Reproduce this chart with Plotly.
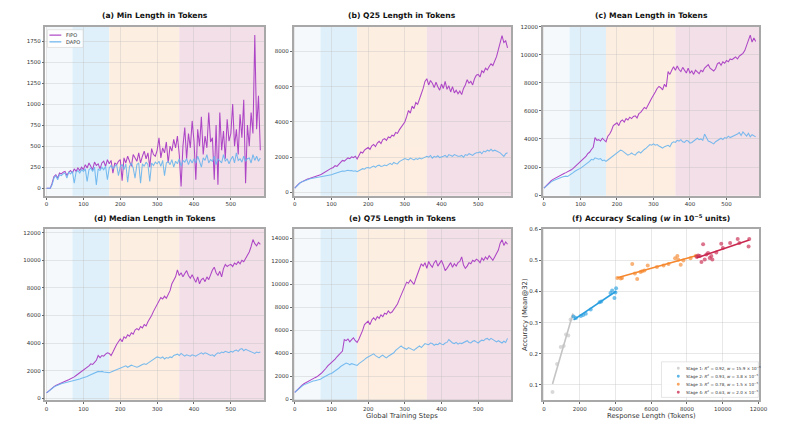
import numpy as np
import plotly.graph_objects as go

# ---------------- data ----------------
steps = list(range(0, 585, 5))
stage_edges = [0, 70, 170, 360, 590]
stage_colors = ["#f6f9fc", "#dff0fa", "#fdeee2", "#f3dfe7"]

min_fipo = [0, 0, 0, 60, 140, 160, 120, 180, 170, 190,
            200, 150, 190, 210, 180, 230, 200, 240, 210, 250,
            220, 280, 240, 300, 260, 220, 310, 270, 290, 230,
            300, 320, 260, 340, 290, 330, 180, 300, 280, 320,
            340, 90, 360, 300, 380, 330, 260, 400, 350, 320,
            420, 300, 380, 440, 350, 420, 250, 470, 400, 380,
            450, 600, 360, 480, 420, 550, 300, 500, 440, 580,
            480, 620, 400, 20, 500, 720, 350, 650, 480, 800,
            560, 100, 700, 500, 850, 400, 620, 480, 900, 550,
            600, 100, 750, 40, 900, 450, 680, 350, 820, 560,
            650, 1000, 500, 700, 400, 880, 600, 1050, 60, 750,
            500, 900, 650, 1820, 700, 1100, 450]
min_dapo = [0, 0, 0, 40, 120, 150, 100, 160, 150, 170,
            180, 120, 190, 170, 200, 60, 190, 210, 180, 220,
            200, 230, 80, 220, 240, 200, 250, 40, 230, 210,
            250, 220, 260, 100, 240, 270, 230, 260, 280, 150,
            260, 280, 220, 290, 70, 260, 300, 240, 120, 280,
            300, 60, 290, 260, 310, 280, 80, 300, 270, 310,
            290, 320, 260, 330, 150, 300, 320, 280, 340, 250,
            320, 290, 350, 260, 330, 310, 350, 280, 340, 300,
            350, 300, 380, 320, 250, 360, 330, 400, 300, 340,
            320, 380, 280, 350, 330, 300, 400, 320, 350, 290,
            340, 380, 300, 420, 330, 350, 310, 380, 320, 350,
            360, 300, 400, 330, 380, 320, 360]

q25_fipo = [250, 380, 480, 560, 620, 670, 720, 760, 790, 820,
            850, 880, 920, 960, 1010, 1060, 1130, 1180, 1250, 1300,
            1380, 1420, 1520, 1480, 1600, 1700, 1820, 1780, 1900, 1960,
            1920, 2020, 1980, 2060, 1900, 2150, 2300, 2240, 2400, 2480,
            2550, 2450, 2650, 2720, 2600, 2800, 2900, 2780, 3000, 3050,
            2950, 3150, 3100, 3250, 3200, 3400, 3350, 3550, 3700, 3850,
            4000, 4300, 4650, 4500, 4900, 4750, 5100, 5000, 5350, 5600,
            5900, 6300, 6450, 6100, 6350, 6200, 5950, 6250, 6000, 5800,
            6150, 5900, 6300, 5850, 6050, 5700, 6000, 5650, 5800, 5600,
            5750, 5550, 5900, 6100, 6400, 6200, 6300, 6100, 6450, 6650,
            6700, 6550, 6900, 6800, 7050, 6950, 7150, 7300, 7200, 7450,
            7700, 8100, 8600, 8900, 8500, 8600, 8200]
q25_dapo = [250, 370, 470, 550, 610, 660, 700, 740, 770, 790,
            810, 830, 850, 840, 880, 900, 920, 960, 950, 990,
            1000, 1050, 1080, 1100, 1150, 1180, 1220, 1200, 1240, 1260,
            1230, 1250, 1210, 1230, 1180, 1250, 1300, 1350, 1320, 1400,
            1420, 1380, 1450, 1500, 1430, 1520, 1550, 1480, 1500, 1560,
            1520, 1600, 1650, 1580, 1700, 1650, 1620, 1750, 1800, 1850,
            1920, 1880, 1850, 1950, 1900, 1850, 1920, 1880, 1950, 1900,
            1950, 2000, 2050, 2000, 2100, 1950, 2050, 2000, 2080, 1980,
            2000, 2050, 2100, 2000, 2150, 2100, 2050, 2150, 2100, 2050,
            2050, 2100, 2000, 2150, 2100, 2200, 2150, 2100, 2200, 2250,
            2250, 2300, 2200, 2350, 2300, 2400, 2350, 2450, 2350, 2400,
            2350, 2300, 2250, 2150, 2050, 2200, 2250]

mean_fipo = [500, 650, 800, 920, 1030, 1120, 1200, 1270, 1340, 1400,
             1470, 1540, 1600, 1650, 1720, 1800, 1900, 2020, 2150, 2250,
             2350, 2480, 2650, 2750, 2950, 3050, 3250, 3400, 4100, 3900,
             3950, 3850, 4050, 3950, 3800, 4200, 4350, 4600, 4950, 5050,
             5150, 4950, 5250, 5350, 5200, 5450, 5350, 5550, 5450, 5600,
             5650, 5500, 5800, 5900, 6050, 6250, 6150, 6450, 6650, 6900,
             7100, 7350, 7600, 7750, 7650, 7500, 7900, 7700, 8800, 8600,
             8900, 9150, 8900, 9200, 8950, 8800, 9100, 8900, 8700, 9050,
             8700, 8850, 8600, 8900, 8750, 8650, 8900, 8800, 9050, 9200,
             9300, 9050, 8950, 8850, 9000, 9350, 9450, 9250, 9500, 9400,
             9600, 9500, 9700, 9650, 9750, 9850, 9700, 9900, 10000, 10100,
             10300, 10700, 11100, 11400, 10900, 11200, 10950]
mean_dapo = [500, 620, 740, 850, 940, 1020, 1090, 1150, 1200, 1240,
             1280, 1320, 1350, 1330, 1400, 1500, 1600, 1700, 1800, 1850,
             1900, 2000, 2100, 2150, 2250, 2400, 2550, 2500, 2650, 2600,
             2550, 2600, 2450, 2500, 2400, 2500, 2600, 2750, 2850, 2950,
             3000, 3100, 3200, 3150, 3050, 2950, 2850, 2900, 3000, 2900,
             2850, 3000, 3100, 3000, 3150, 3250, 3350, 3500, 3600, 3550,
             3650, 3550, 3600, 3500, 3450, 3350, 3450, 3500, 3550, 3450,
             3700, 3800, 3750, 3900, 3850, 3950, 3800, 3750, 3900, 3850,
             3700, 3750, 3850, 3950, 4050, 3950, 4000, 3900, 4350, 4100,
             3850, 3800, 3700, 3650, 3800, 3900, 4000, 4050, 3950, 4100,
             4050, 4200, 4100, 4150, 4250, 4300, 4350, 4450, 4250, 4500,
             4350, 4200, 4400, 4150, 4300, 4250, 4150]

median_fipo = [400, 530, 650, 760, 850, 930, 1000, 1060, 1120, 1180,
               1230, 1290, 1350, 1400, 1480, 1550, 1650, 1750, 1850, 1900,
               2000, 2100, 2250, 2350, 2500, 2450, 2600, 2750, 3100, 2950,
               3100, 3050, 3200, 3300, 3250, 3100, 3350, 3650, 3900, 4100,
               4300, 4100, 4450, 4350, 4600, 4500, 4750, 4650, 4950, 5050,
               4950, 5200, 5100, 5350, 5250, 5550, 5750, 6000, 6300, 6550,
               6800, 7100, 7300, 7200, 7400, 7250, 7500, 7800, 8300, 8600,
               8800, 9300, 8900, 9100, 8800, 9050, 9250, 8900, 8700, 8950,
               8600, 8400, 8800, 8300, 8600, 8700, 8450, 8800, 8600, 9000,
               9300, 9500, 9100, 8900, 9200, 8800, 9400, 9700, 9550, 9650,
               9700, 9550, 9800, 9700, 9900, 9750, 10000, 9900, 10150, 10300,
               10600, 11000, 11500, 11200, 11050, 11300, 11150]
median_dapo = [400, 520, 630, 730, 820, 900, 960, 1010, 1060, 1100,
               1130, 1160, 1190, 1200, 1230, 1270, 1320, 1360, 1400, 1450,
               1480, 1520, 1580, 1650, 1700, 1780, 1850, 1900, 1950, 1920,
               1950, 1900, 1880, 1850, 1850, 1900, 1950, 2000, 2100, 2150,
               2200, 2250, 2300, 2350, 2250, 2300, 2400, 2350, 2300, 2250,
               2300, 2400, 2450, 2500, 2450, 2550, 2650, 2700, 2800, 2900,
               3000, 2950, 2900, 3000, 2850, 2950, 2900, 3000, 2950, 3100,
               3150, 3200, 3100, 3250, 3150, 3050, 3150, 3100, 3050, 3150,
               3100, 3050, 3150, 3250, 3300, 3200, 3300, 3250, 3150, 3100,
               3150, 3050, 3200, 3300, 3250, 3350, 3300, 3400, 3350, 3300,
               3400, 3350, 3450, 3500, 3400, 3550, 3600, 3450, 3550, 3500,
               3400, 3350, 3300, 3250, 3350, 3300, 3350]

q75_fipo = [600, 780, 950, 1100, 1230, 1350, 1450, 1550, 1640, 1720,
            1800, 1880, 1950, 2050, 2200, 2350, 2500, 2700, 2900, 3050,
            3150, 3300, 3500, 3700, 3900, 4000, 4200, 5200, 5100, 5250,
            5000, 5200, 5350, 5100, 4950, 5250, 5600, 6000, 6500, 6700,
            6800, 6500, 6900, 7100, 6900, 7200, 7050, 7350, 7200, 7500,
            7400, 7700, 7500, 7600, 7800, 8000, 8300, 8700, 9100, 9500,
            9800, 10200, 10100, 10400, 10200, 10000, 10500, 11000, 11400, 11800,
            11600, 11900, 11400, 12000, 11700, 11500, 11900, 12100, 11600, 11800,
            12100, 11700, 11200, 11400, 11700, 11900, 11500, 11800, 11600, 11900,
            12000, 12400, 11700, 11400, 11600, 11900, 11800, 12100, 12000, 12200,
            12100, 11900, 12300, 12100, 12400, 12200, 12500, 12300, 12100, 12400,
            12700, 13000, 13600, 13900, 13400, 13700, 13500]
q75_dapo = [600, 750, 900, 1030, 1150, 1250, 1330, 1400, 1470, 1530,
            1580, 1620, 1650, 1680, 1750, 1850, 1950, 2050, 2150, 2200,
            2250, 2350, 2450, 2550, 2700, 2850, 2950, 3050, 3150, 3100,
            3000, 3100, 3050, 2950, 2950, 3100, 3200, 3350, 3450, 3600,
            3700, 3800, 3900, 3950, 3800, 3700, 3600, 3750, 3850, 3700,
            3600, 3750, 3850, 3950, 4050, 4250, 4400, 4550, 4650, 4500,
            4450, 4350, 4500, 4400, 4300, 4250, 4400, 4550, 4650, 4500,
            4700, 4850, 4800, 4750, 4900, 4850, 4700, 4800, 4750, 4900,
            4800, 4750, 4900, 4950, 5200, 5000, 4900, 4850, 4950, 4800,
            4900, 4850, 4950, 5050, 5100, 4950, 4900, 5050, 5100, 5000,
            4900, 5050, 5150, 5100, 5250, 5300, 5150, 5300, 5200, 5100,
            5000, 5100, 5000, 4900, 5050, 4950, 5300]

# accuracy scaling scatter
s1_x = [480, 737, 940, 1106, 1235, 1364, 1493, 1622]
s1_y = [0.077, 0.167, 0.222, 0.225, 0.262, 0.259, 0.310, 0.320]
s2_x = [1659, 1788, 2065, 2194, 2341, 2618, 3115, 3207, 3724, 3816, 3945, 4000, 4037]
s2_y = [0.320, 0.315, 0.321, 0.325, 0.329, 0.342, 0.366, 0.368, 0.395, 0.403, 0.379, 0.397, 0.411]
s3_x = [4110, 4295, 4369, 4940, 5088, 5217, 5401, 5493, 5622, 5806, 6323, 6691, 6968,
        7336, 7465, 7521, 7650, 7797, 8200, 8500]
s3_y = [0.444, 0.442, 0.444, 0.489, 0.458, 0.440, 0.463, 0.465, 0.468, 0.484, 0.479, 0.484, 0.489,
        0.507, 0.514, 0.502, 0.486, 0.500, 0.507, 0.515]
s4_x = [8535, 8627, 8719, 8811, 8903, 8995, 9088, 9180, 9272, 9364, 9419, 9641, 9917,
        10009, 10415, 10839, 10931, 11447, 11484]
s4_y = [0.512, 0.516, 0.514, 0.495, 0.552, 0.503, 0.519, 0.524, 0.508, 0.514, 0.503, 0.526, 0.554,
        0.540, 0.556, 0.569, 0.556, 0.545, 0.569]
stage_labels = ["Stage 1: <i>R</i><sup>2</sup> = 0.92, <i>w</i> = 15.9 × 10<sup>−5</sup>",
                "Stage 2: <i>R</i><sup>2</sup> = 0.93, <i>w</i> = 3.8 × 10<sup>−5</sup>",
                "Stage 3: <i>R</i><sup>2</sup> = 0.78, <i>w</i> = 1.5 × 10<sup>−5</sup>",
                "Stage 4: <i>R</i><sup>2</sup> = 0.63, <i>w</i> = 2.0 × 10<sup>−5</sup>"]
scatter_colors = ["#c4c4c4", "#2a9fe0", "#f5872d", "#c9284f"]
series_names = ["FIPO", "DAPO"]

titles = ["(a) Min Length in Tokens", "(b) Q25 Length in Tokens", "(c) Mean Length in Tokens",
          "(d) Median Length in Tokens", "(e) Q75 Length in Tokens",
          "(f) Accuracy Scaling (<i>w</i> in 10<sup>−5</sup> units)"]

# ---------------- layout geometry ----------------
W, H = 800, 435


def PX(x):
    return x / W


def PY(y):
    return 1 - y / H


xdomains = [[PX(45), PX(266)], [PX(296), PX(516)], [PX(548), PX(767)]]
ydomains = [[PY(195), PY(24)], [PY(402), PY(229)]]

FIPO_C = "#ad46c6"
DAPO_C = "#6ab4ee"
series_colors = [FIPO_C, DAPO_C]

fig = go.Figure()

panels = [(min_fipo, min_dapo, [-90, 1920], 250),
          (q25_fipo, q25_dapo, [-185, 9400], 2000),
          (mean_fipo, mean_dapo, [-50, 12000], 2000),
          (median_fipo, median_dapo, [-150, 12240], 2000),
          (q75_fipo, q75_dapo, [-100, 14800], 2000)]

axis_common = dict(showline=True, linecolor="#a8a8a8", linewidth=1.5, mirror=True,
                   showgrid=True, gridcolor="rgba(190,190,190,0.35)", gridwidth=0.6,
                   ticks="outside", ticklen=2, tickcolor="#666", tickwidth=0.6,
                   tickfont=dict(size=5.5, color="#333"), zeroline=False)

shapes = []
annotations = []
for i in range(6):
    r, c = divmod(i, 3)
    n = i + 1
    xa = "xaxis" if n == 1 else f"xaxis{n}"
    ya = "yaxis" if n == 1 else f"yaxis{n}"
    xr = "x" if n == 1 else f"x{n}"
    yr = "y" if n == 1 else f"y{n}"
    fig.layout[xa] = dict(domain=xdomains[c], anchor=yr, **axis_common)
    fig.layout[ya] = dict(domain=ydomains[r], anchor=xr, **axis_common)
    dom = xdomains[c]
    annotations.append(dict(text=f"<b>{titles[i]}</b>", x=(dom[0] + dom[1]) / 2,
                            y=ydomains[r][1] + 0.011, xref="paper", yref="paper",
                            xanchor="center", yanchor="bottom", showarrow=False,
                            font=dict(size=7.6, color="#111")))
    if i < 5:
        fv, dv, yrange, dt = panels[i]
        fig.layout[xa].update(range=[-3, 590], tickvals=[0, 100, 200, 300, 400, 500])
        fig.layout[ya].update(range=yrange, dtick=dt, tick0=0, tickformat="d")
        for k in range(4):
            shapes.append(dict(type="rect", xref=xr, yref=f"{yr} domain",
                               x0=stage_edges[k], x1=stage_edges[k + 1], y0=0, y1=1,
                               fillcolor=stage_colors[k], line=dict(width=0), layer="below"))
        fig.add_trace(go.Scatter(x=steps, y=fv, mode="lines", name="FIPO",
                                 line=dict(color=FIPO_C, width=1.05), xaxis=xr, yaxis=yr,
                                 showlegend=False))
        fig.add_trace(go.Scatter(x=steps, y=dv, mode="lines", name="DAPO",
                                 line=dict(color=DAPO_C, width=1.05), xaxis=xr, yaxis=yr,
                                 showlegend=False, opacity=0.9))
    else:
        fig.layout[xa].update(range=[-60, 12050], dtick=2000, tick0=0, tickformat="d")
        fig.layout[ya].update(range=[0.05, 0.6], dtick=0.1, tick0=0.1, tickformat=".1f")
        for sx, sy, col, lab in zip([s1_x, s2_x, s3_x, s4_x], [s1_y, s2_y, s3_y, s4_y],
                                    scatter_colors, stage_labels):
            fig.add_trace(go.Scatter(x=sx, y=sy, mode="markers", name=lab,
                                     marker=dict(color=col, size=4, opacity=0.65),
                                     xaxis=xr, yaxis=yr, showlegend=False))
            slope, icpt = np.polyfit(sx, sy, 1)
            lx = [min(sx), max(sx)]
            fig.add_trace(go.Scatter(x=lx, y=[slope * v + icpt for v in lx], mode="lines",
                                     line=dict(color=col, width=1.6), xaxis=xr, yaxis=yr,
                                     showlegend=False, hoverinfo="skip"))

# --- legend (a): compact, drawn in paper coords ---
shapes.append(dict(type="rect", xref="paper", yref="paper", x0=PX(47), x1=PX(83), y0=PY(45), y1=PY(27),
                   fillcolor="rgba(255,255,255,0.85)", line=dict(color="#d5d5d5", width=0.6)))
for k, (nm, col) in enumerate(zip(series_names, series_colors)):
    yy = 32.5 + 6.8 * k
    shapes.append(dict(type="line", xref="paper", yref="paper", x0=PX(49), x1=PX(61),
                       y0=PY(yy), y1=PY(yy), line=dict(color=col, width=1.2)))
    annotations.append(dict(text=nm, x=PX(63.5), y=PY(yy), xref="paper", yref="paper",
                            xanchor="left", yanchor="middle", showarrow=False,
                            font=dict(size=5, color="#333")))

# --- legend (f) ---
shapes.append(dict(type="rect", xref="paper", yref="paper", x0=PX(668), x1=PX(766), y0=PY(399), y1=PY(363),
                   fillcolor="rgba(255,255,255,0.88)", line=dict(color="#d5d5d5", width=0.6)))
for k, (lab, col) in enumerate(zip(stage_labels, scatter_colors)):
    yy = 369.5 + 8.1 * k
    shapes.append(dict(type="circle", xref="paper", yref="paper", x0=PX(683.5), x1=PX(686.5),
                       y0=PY(yy + 1.5), y1=PY(yy - 1.5), fillcolor=col, opacity=0.75,
                       line=dict(width=0)))
    annotations.append(dict(text=lab, x=PX(691), y=PY(yy), xref="paper", yref="paper",
                            xanchor="left", yanchor="middle", showarrow=False,
                            font=dict(size=4.1, color="#333")))

annotations.append(dict(text="Global Training Steps", x=(xdomains[1][0] + xdomains[1][1]) / 2,
                        y=PY(418), xref="paper", yref="paper", showarrow=False,
                        font=dict(size=6.8, color="#333"), xanchor="center", yanchor="middle"))
annotations.append(dict(text="Response Length (Tokens)", x=(xdomains[2][0] + xdomains[2][1]) / 2,
                        y=PY(418), xref="paper", yref="paper", showarrow=False,
                        font=dict(size=6.8, color="#333"), xanchor="center", yanchor="middle"))
annotations.append(dict(text="Accuracy (Mean@32)", x=PX(530), y=(ydomains[1][0] + ydomains[1][1]) / 2,
                        xref="paper", yref="paper", showarrow=False, textangle=-90,
                        font=dict(size=6.8, color="#333"), xanchor="center", yanchor="middle"))

fig.update_layout(
    width=W, height=H, margin=dict(l=0, r=0, t=0, b=0),
    paper_bgcolor="white", plot_bgcolor="white",
    font=dict(family="DejaVu Sans", color="#333"),
    shapes=shapes, annotations=annotations, showlegend=False,
)

fig.write_html("out.html", config={"displayModeBar": False},
               post_script="document.body.style.margin='0px';document.body.style.overflow='hidden';")
